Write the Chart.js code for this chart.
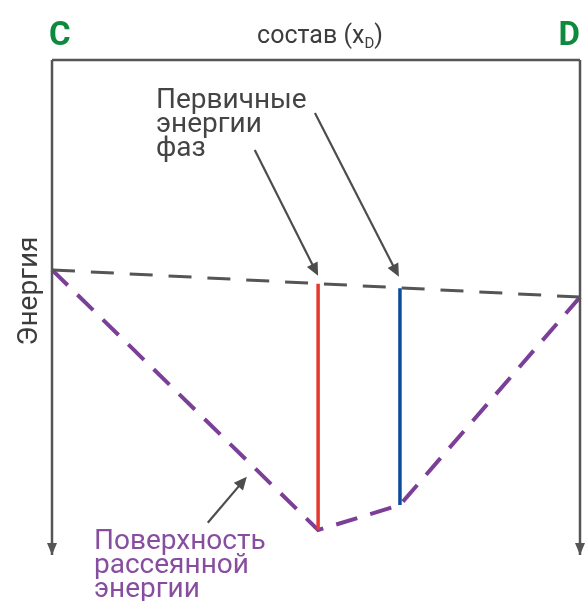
<!DOCTYPE html>
<html>
<head>
<meta charset="utf-8">
<script src="https://cdn.jsdelivr.net/npm/chart.js@4"></script>
<style>
  html, body { margin: 0; padding: 0; background: #fff; }
  #wrap { width: 585px; height: 601px; }
</style>
</head>
<body>
<div id="wrap"><canvas id="chart" width="585" height="601"></canvas></div>
<script>
// composition x: 0 = C, 1 = D ; energy y: 0..100
const endLabels = ["C", "D"];
const axisTitle = "состав (x";
const axisSub = "D";
const yTitle = "Энергия";

const primaryLine = [{ x: 0, y: 57.6 }, { x: 1, y: 52.1 }];
const dissipatedSurface = [{ x: 0, y: 57.6 }, { x: 0.504, y: 5.05 }, { x: 0.659, y: 10.1 }, { x: 1, y: 52.1 }];
const redPhase = [{ x: 0.504, y: 54.8 }, { x: 0.504, y: 5.05 }];
const bluePhase = [{ x: 0.659, y: 53.9 }, { x: 0.659, y: 10.1 }];

const frameTop = [{ x: 0, y: 100 }, { x: 1, y: 100 }];
const frameLeft = [{ x: 0, y: 100 }, { x: 0, y: 0 }];
const frameRight = [{ x: 1, y: 100 }, { x: 1, y: 0 }];

const primaryText = ["Первичные", "энергии", "фаз"];
const surfaceText = ["Поверхность", "рассеянной", "энергии"];

// annotation arrows: [from, to] in data units
const arrows = [
    [{ x: 0.384, y: 81.8 }, { x: 0.504, y: 56.4 }],
    [{ x: 0.498, y: 89.3 }, { x: 0.657, y: 56.2 }],
    [{ x: 0.295, y: 6.5 }, { x: 0.369, y: 15.8 }],
];

const FRAME = "#555555";
const FONT = "Roboto, 'Open Sans', sans-serif";

function drawArrowHead(ctx, x1, y1, x2, y2, len, half, color) {
    const a = Math.atan2(y2 - y1, x2 - x1);
    ctx.save();
    ctx.fillStyle = color;
    ctx.beginPath();
    ctx.moveTo(x2, y2);
    ctx.lineTo(x2 - len * Math.cos(a) + half * Math.sin(a), y2 - len * Math.sin(a) - half * Math.cos(a));
    ctx.lineTo(x2 - len * Math.cos(a) - half * Math.sin(a), y2 - len * Math.sin(a) + half * Math.cos(a));
    ctx.closePath();
    ctx.fill();
    ctx.restore();
}

const decor = {
    id: "decor",
    afterDatasetsDraw(chart) {
        const { ctx, scales } = chart;
        const X = (v) => scales.x.getPixelForValue(v);
        const Y = (v) => scales.y.getPixelForValue(v);

        // frame arrow heads at the bottom
        drawArrowHead(ctx, X(0), Y(10), X(0), Y(0), 12, 5, FRAME);
        drawArrowHead(ctx, X(1), Y(10), X(1), Y(0), 12, 5, FRAME);

        // annotation arrows
        arrows.forEach(([p, q]) => {
            const x1 = X(p.x), y1 = Y(p.y), x2 = X(q.x), y2 = Y(q.y);
            const a = Math.atan2(y2 - y1, x2 - x1);
            ctx.save();
            ctx.strokeStyle = "#4d4d4d";
            ctx.lineWidth = 2.2;
            ctx.beginPath();
            ctx.moveTo(x1, y1);
            ctx.lineTo(x2 - 8 * Math.cos(a), y2 - 8 * Math.sin(a));
            ctx.stroke();
            ctx.restore();
            drawArrowHead(ctx, x1, y1, x2, y2, 13, 6, "#4d4d4d");
        });

        ctx.save();
        ctx.textBaseline = "alphabetic";
        // C and D
        ctx.fillStyle = "#0e8a3e";
        ctx.font = "bold 33px " + FONT;
        ctx.textAlign = "left";
        ctx.fillText(endLabels[0], 49, 45);
        ctx.textAlign = "right";
        ctx.fillText(endLabels[1], 580, 45);

        // axis title with subscript
        ctx.fillStyle = "#3d3d3d";
        ctx.font = "25px " + FONT;
        ctx.textAlign = "left";
        const w1 = ctx.measureText(axisTitle).width;
        ctx.font = "15px " + FONT;
        const w2 = ctx.measureText(axisSub).width;
        ctx.font = "25px " + FONT;
        const w3 = ctx.measureText(")").width;
        let sx = 320 - (w1 + w2 + w3) / 2;
        ctx.fillText(axisTitle, sx, 43);
        ctx.font = "15px " + FONT;
        ctx.fillText(axisSub, sx + w1, 48);
        ctx.font = "25px " + FONT;
        ctx.fillText(")", sx + w1 + w2, 43);

        // y title
        ctx.save();
        ctx.translate(37, 291);
        ctx.rotate(-Math.PI / 2);
        ctx.textAlign = "center";
        ctx.font = "28px " + FONT;
        ctx.fillText(yTitle, 0, 0);
        ctx.restore();

        // primary energies label
        ctx.fillStyle = "#444444";
        ctx.font = "28px " + FONT;
        ctx.textAlign = "left";
        primaryText.forEach((t, i) => ctx.fillText(t, 156, 108 + i * 24));

        // dissipated surface label
        ctx.fillStyle = "#874ea0";
        surfaceText.forEach((t, i) => ctx.fillText(t, 94, 549 + i * 24));
        ctx.restore();
    },
};

const line = (data, color, width, dash) => ({
    data,
    showLine: true,
    borderColor: color,
    borderWidth: width,
    borderDash: dash || [],
    pointRadius: 0,
    fill: false,
    clip: false,
    tension: 0,
});

new Chart(document.getElementById("chart"), {
    type: "scatter",
    data: {
        datasets: [
            line(frameTop, FRAME, 2.5),
            line(frameLeft, FRAME, 2.5),
            line(frameRight, FRAME, 2.5),
            line(primaryLine, "#555555", 3, [23, 15.9]),
            line(redPhase, "#e8392e", 3.5),
            line(bluePhase, "#0d4c9a", 3.5),
            line(dissipatedSurface, "#7b3f98", 4, [22, 13.55]),
        ],
    },
    options: {
        responsive: false,
        animation: false,
        layout: { padding: { left: 52, right: 5, top: 60, bottom: 46 } },
        plugins: { legend: { display: false }, tooltip: { enabled: false } },
        scales: {
            x: { type: "linear", min: 0, max: 1, display: false },
            y: { type: "linear", min: 0, max: 100, display: false },
        },
    },
    plugins: [decor],
});
</script>
</body>
</html>
